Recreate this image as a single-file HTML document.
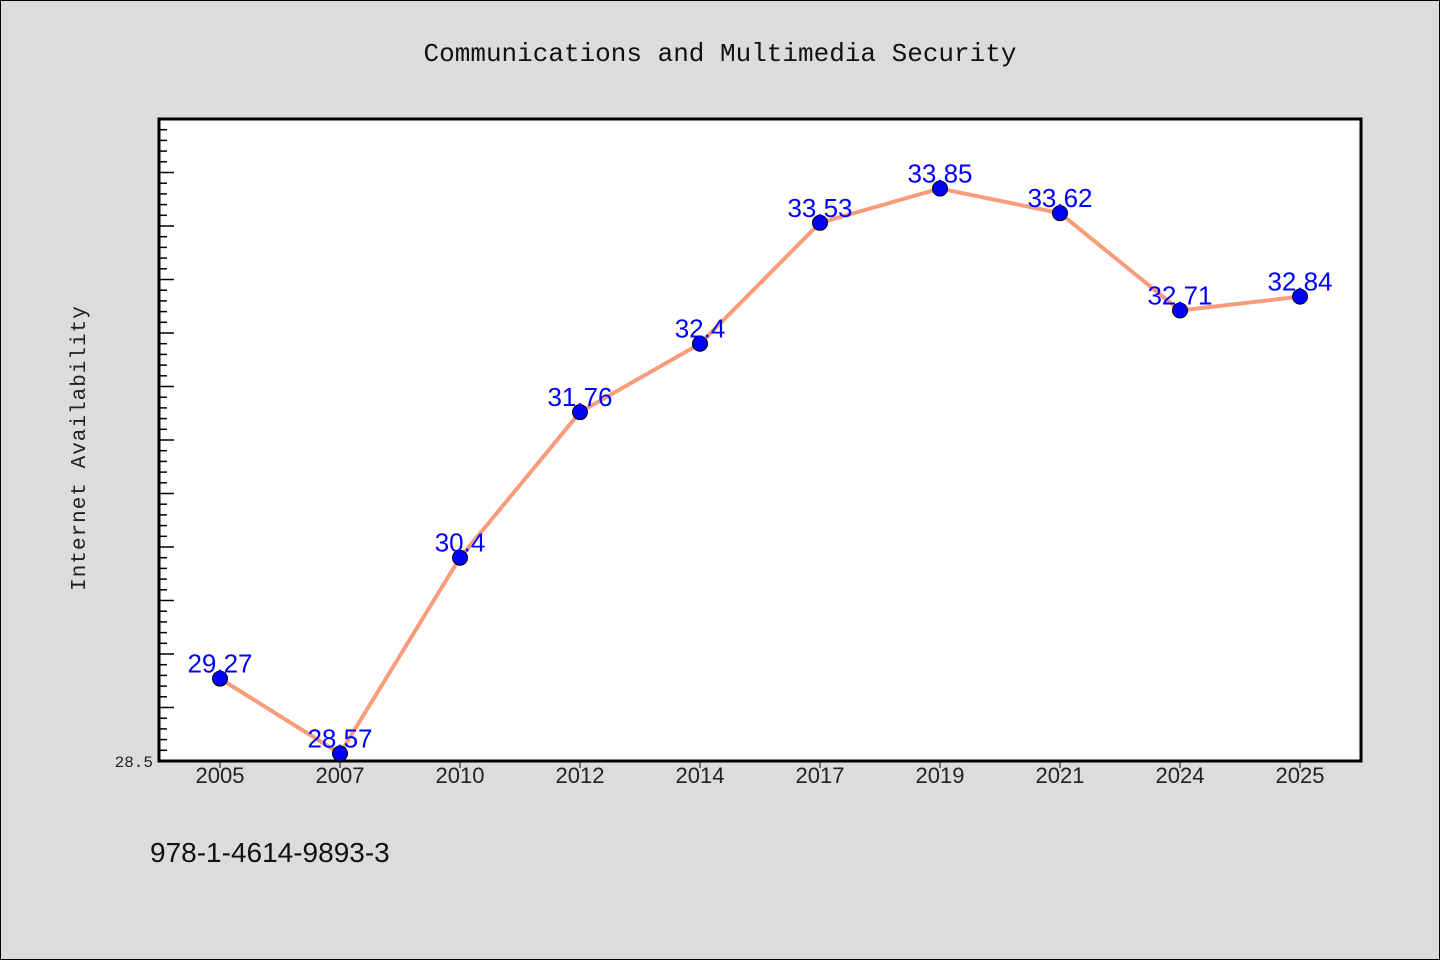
<!DOCTYPE html>
<html><head><meta charset="utf-8"><style>
body{margin:0;background:#dcdcdc;}
svg{display:block;font-family:"Liberation Mono","Noto Sans CJK SC",monospace;}
</style></head><body>
<svg id="chart" width="1440" height="960">
<rect x="0.5" y="0.5" width="1439" height="959" fill="#dcdcdc" stroke="#000"/>
<text x="720" y="61" text-anchor="middle" font-size="26" fill="#111">Communications and Multimedia Security</text>
<text transform="translate(85,448) rotate(-90)" text-anchor="middle" font-size="21" fill="#222" letter-spacing="1">Internet Availability</text>
<text x="150" y="862" font-size="28" fill="#111" font-family="Liberation Sans, sans-serif">978-1-4614-9893-3</text>
<rect x="159" y="119" width="1202" height="642" fill="#fff" stroke="#000" stroke-width="3"/>
<g id="ticks"></g>
<g id="marks"></g>
</svg>
<script>
const categories=["2005","2007","2010","2012","2014","2017","2019","2021","2024","2025"];
const values=[29.27,28.57,30.4,31.76,32.4,33.53,33.85,33.62,32.71,32.84];
const labels=["29.27","28.57","30.4","31.76","32.4","33.53","33.85","33.62","32.71","32.84"];
const yMin=28.5,yMax=34.5;
const L=159,R=1361,T=119,B=761;
const NS="http://www.w3.org/2000/svg";
function y(v){return B-(v-yMin)/(yMax-yMin)*(B-T);}
function x(i){return 220+i*120;}
function mk(t,a,p){const e=document.createElementNS(NS,t);for(const k in a)e.setAttribute(k,a[k]);p.appendChild(e);return e;}
const tg=document.getElementById('ticks'),mg=document.getElementById('marks');
for(let k=1;k<60;k++){const v=yMin+k*0.1;const yy=y(v);const len=(k%5===0)?15:8;
const t=mk('line',{x1:L,x2:L+len,y1:yy,y2:yy,stroke:'#000','stroke-width':1.5},tg);

}
const yl=mk('text',{x:153,y:767,'text-anchor':'end','font-size':16,fill:'#222'},tg);yl.textContent="28.5";


categories.forEach((c,i)=>{
const t=mk('line',{x1:x(i),x2:x(i),y1:B,y2:B+7,stroke:'#000','stroke-width':1},tg);


const l=mk('text',{x:x(i),y:783,'text-anchor':'middle','font-size':22,fill:'#222','font-family':'Liberation Sans, sans-serif'},tg);l.textContent=c;


});
const pts=values.map((v,i)=>x(i)+','+y(v)).join(' ');
const pl=mk('polyline',{points:pts,fill:'none',stroke:'#f89c7c','stroke-width':4,'stroke-linejoin':'round'},mg);


values.forEach((v,i)=>{
const c=mk('circle',{cx:x(i),cy:y(v),r:7.5,fill:'#0000ff',stroke:'#000','stroke-width':1},mg);


const t=mk('text',{x:x(i),y:y(v)-6,'text-anchor':'middle','font-size':26,fill:'#0000ff','font-family':'Liberation Sans, sans-serif'},mg);t.textContent=labels[i];


});
</script>
</body></html>
